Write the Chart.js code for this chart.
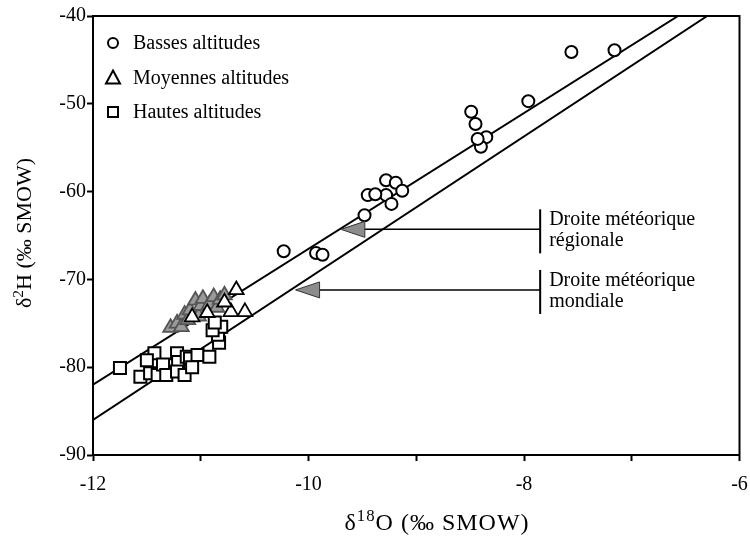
<!DOCTYPE html>
<html>
<head>
<meta charset="utf-8">
<script src="https://cdn.jsdelivr.net/npm/chart.js@4.4.1/dist/chart.umd.min.js"></script>
<style>
html, body { margin: 0; padding: 0; background: #fff; }
</style>
</head>
<body>
<canvas id="chart" width="750" height="537"></canvas>
<script>
// valeurs (δ18O / δ2H, ‰ SMOW)

const bassesX = [-7.56, -7.16, -7.96, -8.49, -8.45, -8.35, -8.40, -8.43, -9.28, -9.19, -9.13, -9.28, -9.45, -9.38, -9.23, -9.48, -10.23, -9.93, -9.87];
const bassesY = [-44.1, -43.9, -49.7, -50.9, -52.3, -53.8, -54.9, -54.0, -58.7, -59.0, -59.9, -60.4, -60.4, -60.3, -61.4, -62.7, -66.8, -67.0, -67.2];

// triangles : d'abord le paquet dense (grisé), puis les triangles isolés
const moyennesX = [-11.28, -11.22, -11.18, -11.15, -11.12, -11.10, -11.05, -11.02, -11.00, -10.98, -10.92, -10.88, -10.85, -10.82, -10.78,
                   -10.67, -10.59, -10.72, -10.78, -10.94, -11.08];
const moyennesY = [-75.5, -75.0, -75.4, -74.0, -74.6, -73.5, -72.4, -74.2, -73.0, -72.2, -72.8, -72.0, -73.2, -72.3, -71.8,
                   -71.2, -73.7, -73.7, -72.6, -73.8, -74.3];
const moyennesDense = 15;

const hautesX = [-11.75, -11.56, -11.43, -11.50, -11.47, -11.40, -11.35, -11.32, -11.22, -11.21, -11.22, -11.15, -11.13, -11.10, -11.08,
                 -11.03, -10.92, -10.83, -10.84, -10.81, -10.89, -10.87];
const hautesY = [-80.1, -81.1, -78.4, -79.2, -80.7, -80.9, -79.7, -80.9, -78.4, -79.4, -80.5, -80.9, -78.8, -79.0, -80.0,
                 -78.6, -78.8, -77.2, -76.3, -75.4, -75.8, -74.9];

// droites météoriques (extrémités)
const regionaleX = [-12, -6.57];
const regionaleY = [-82, -40];
const mondialeX  = [-12, -6.3];
const mondialeY  = [-86, -40];

// axes
const xTickLabels = [-12, -10, -8, -6];
const yTickLabels = [-90, -80, -70, -60, -50, -40];

// flèches d'annotation
const flecheTexte = [['Droite météorique', 'régionale'], ['Droite météorique', 'mondiale']];
const flecheBoutX = [-9.70, -10.12];
const flecheY     = [-64.3, -71.2];
const flecheBarreX = -7.85;

const legendeNoms = ['Basses altitudes', 'Moyennes altitudes', 'Hautes altitudes'];

const FONT = '"Liberation Serif", "Times New Roman", serif';

const pts = (xs, ys) => xs.map((x, i) => ({ x: x, y: ys[i] }));

function drawSymbol(ctx, style, x, y) {
    ctx.beginPath();
    if (style === 'circle') {
        ctx.arc(x, y, 5, 0, Math.PI * 2);
    } else if (style === 'triangle') {
        ctx.moveTo(x, y - 7);
        ctx.lineTo(x + 7, y + 6);
        ctx.lineTo(x - 7, y + 6);
        ctx.closePath();
    } else {
        ctx.rect(x - 5, y - 5, 10, 10);
    }
    ctx.fillStyle = '#fff';
    ctx.fill();
    ctx.lineWidth = 2;
    ctx.strokeStyle = '#000';
    ctx.stroke();
}

// texte avec exposant (δ18O, δ2H)
function drawSupText(ctx, parts, cx, cy, size, spacing) {
    ctx.letterSpacing = spacing + 'px';
    let w = 0;
    parts.forEach(p => {
        ctx.font = (p[1] ? size * 0.7 : size) + 'px ' + FONT;
        w += ctx.measureText(p[0]).width;
    });
    let x = cx - w / 2;
    ctx.textAlign = 'left';
    ctx.textBaseline = 'alphabetic';
    parts.forEach(p => {
        ctx.font = (p[1] ? size * 0.7 : size) + 'px ' + FONT;
        ctx.fillText(p[0], x, p[1] ? cy - size * 0.38 : cy);
        x += ctx.measureText(p[0]).width;
    });
    ctx.letterSpacing = '0px';
}

const decorPlugin = {
    id: 'decor',
    afterDatasetsDraw(chart) {
        const ctx = chart.ctx;
        const a = chart.chartArea;
        const xs = chart.scales.x, ys = chart.scales.y;
        ctx.save();

        // cadre
        ctx.strokeStyle = '#000';
        ctx.lineWidth = 2;
        ctx.strokeRect(a.left, a.top, a.right - a.left, a.bottom - a.top);

        // légende
        const styles = ['circle', 'triangle', 'rect'];
        legendeNoms.forEach((nom, i) => {
            const y = a.top + 27 + i * 34.5;
            drawSymbol(ctx, styles[i], a.left + 20, y);
            ctx.fillStyle = '#000';
            ctx.font = '20px ' + FONT;
            ctx.textAlign = 'left';
            ctx.textBaseline = 'alphabetic';
            ctx.fillText(nom, a.left + 40, y + 6);
        });

        // flèches et textes
        const bx = xs.getPixelForValue(flecheBarreX);
        flecheTexte.forEach((lignes, i) => {
            const tx = xs.getPixelForValue(flecheBoutX[i]);
            const ty = ys.getPixelForValue(flecheY[i]);
            ctx.strokeStyle = '#000';
            ctx.lineWidth = 1.5;
            ctx.beginPath();
            ctx.moveTo(tx + 20, ty);
            ctx.lineTo(bx, ty);
            ctx.stroke();
            ctx.lineWidth = 2;
            ctx.beginPath();
            ctx.moveTo(bx, ty - 20);
            ctx.lineTo(bx, ty + 24);
            ctx.stroke();

            ctx.beginPath();
            ctx.moveTo(tx, ty);
            ctx.lineTo(tx + 24, ty - 8);
            ctx.lineTo(tx + 24, ty + 8);
            ctx.closePath();
            ctx.fillStyle = '#8c8c8c';
            ctx.fill();
            ctx.strokeStyle = '#333';
            ctx.lineWidth = 1;
            ctx.stroke();

            ctx.fillStyle = '#000';
            ctx.font = '20px ' + FONT;
            ctx.textAlign = 'left';
            ctx.textBaseline = 'alphabetic';
            ctx.fillText(lignes[0], bx + 9, ty - 4);
            ctx.fillText(lignes[1], bx + 9, ty + 17);
        });

        // titres des axes
        ctx.fillStyle = '#000';
        drawSupText(ctx, [['δ', false], ['18', true], ['O (‰ SMOW)', false]], 437, 530, 24, 1);
        ctx.save();
        ctx.translate(31, 233);
        ctx.rotate(-Math.PI / 2);
        drawSupText(ctx, [['δ', false], ['2', true], ['H (‰ SMOW)', false]], 0, 0, 22, 0);
        ctx.restore();

        ctx.restore();
    }
};

const axisGrid = {
    display: true,
    drawOnChartArea: false,
    drawTicks: true,
    tickLength: 6,
    tickWidth: 2,
    tickColor: '#000'
};

new Chart(document.getElementById('chart'), {
    type: 'scatter',
    data: {
        datasets: [
            {
                label: legendeNoms[0],
                data: pts(bassesX, bassesY),
                pointStyle: 'circle',
                pointRadius: 6,
                pointBackgroundColor: '#fff',
                pointBorderColor: '#000',
                pointBorderWidth: 2,
                order: 1
            },
            {
                label: legendeNoms[1],
                data: pts(moyennesX, moyennesY),
                pointStyle: 'triangle',
                pointRadius: 8.5,
                pointBackgroundColor: c => c.dataIndex < moyennesDense ? '#9a9a9a' : '#fff',
                pointBorderColor: c => c.dataIndex < moyennesDense ? '#555' : '#000',
                pointBorderWidth: 1.8,
                order: 2
            },
            {
                label: legendeNoms[2],
                data: pts(hautesX, hautesY),
                pointStyle: 'rect',
                pointRadius: 8.5,
                pointBackgroundColor: '#fff',
                pointBorderColor: '#000',
                pointBorderWidth: 2,
                order: 3
            },
            {
                label: 'régionale',
                data: pts(regionaleX, regionaleY),
                showLine: true,
                borderColor: '#000',
                borderWidth: 2,
                pointRadius: 0,
                order: 10
            },
            {
                label: 'mondiale',
                data: pts(mondialeX, mondialeY),
                showLine: true,
                borderColor: '#000',
                borderWidth: 2,
                pointRadius: 0,
                order: 11
            }
        ]
    },
    options: {
        responsive: false,
        animation: false,
        events: [],
        layout: { padding: { left: 0, right: 8, top: 16, bottom: 0 } },
        plugins: {
            legend: { display: false },
            tooltip: { enabled: false }
        },
        scales: {
            x: {
                type: 'linear',
                min: -12,
                max: -6,
                grid: axisGrid,
                border: { display: true, color: '#000', width: 2 },
                ticks: {
                    stepSize: 1,
                    autoSkip: false,
                    maxRotation: 0,
                    padding: 12,
                    color: '#000',
                    font: { family: FONT, size: 20 },
                    callback: v => xTickLabels.includes(v) ? String(v) : ''
                },
                afterFit: s => { s.height = 82; s.paddingLeft = 0; s.paddingRight = 0; }
            },
            y: {
                type: 'linear',
                min: -90,
                max: -40,
                grid: axisGrid,
                border: { display: true, color: '#000', width: 2 },
                ticks: {
                    stepSize: 10,
                    autoSkip: false,
                    padding: 1,
                    color: '#000',
                    font: { family: FONT, size: 20 },
                    callback: v => yTickLabels.includes(v) ? String(v) : ''
                },
                afterFit: s => { s.width = 93; s.paddingTop = 0; s.paddingBottom = 0; }
            }
        }
    },
    plugins: [decorPlugin]
});
</script>
</body>
</html>
